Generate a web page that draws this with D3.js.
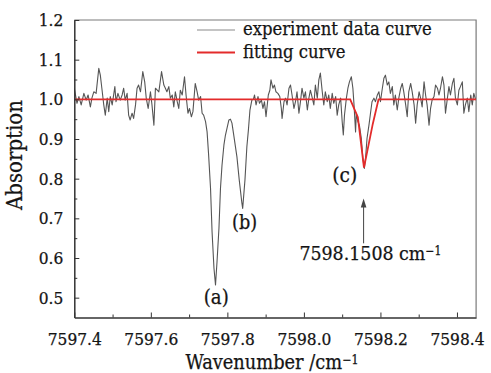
<!DOCTYPE html>
<html>
<head>
<meta charset="utf-8">
<script src="https://cdn.jsdelivr.net/npm/d3@7"></script>
<style>
  body { margin: 0; background: #fff; }
  svg { display: block; }
  text { font-family: 'DejaVu Serif Condensed', 'DejaVu Serif', serif; font-stretch: condensed; fill: #141414; stroke: #141414; stroke-width: 0.25px; }
</style>
</head>
<body>
<div id="chart"></div>
<script>
// experiment data curve
const expWavenumber = [
  7597.400, 7597.407, 7597.412, 7597.418, 7597.425, 7597.431, 7597.436, 7597.442, 7597.446, 7597.451,
  7597.457, 7597.464, 7597.468, 7597.472, 7597.477, 7597.481, 7597.486, 7597.490, 7597.494, 7597.499,
  7597.506, 7597.509, 7597.514, 7597.520, 7597.525, 7597.529, 7597.533, 7597.538, 7597.542, 7597.546,
  7597.551, 7597.555, 7597.560, 7597.564, 7597.568, 7597.573, 7597.579, 7597.584, 7597.588, 7597.593,
  7597.599, 7597.603, 7597.608, 7597.612, 7597.621, 7597.628, 7597.634, 7597.638, 7597.642, 7597.647,
  7597.651, 7597.656, 7597.660, 7597.664, 7597.669, 7597.673, 7597.677, 7597.682, 7597.688, 7597.692,
  7597.697, 7597.701, 7597.706, 7597.710, 7597.716, 7597.721, 7597.725, 7597.730, 7597.734, 7597.738,
  7597.743, 7597.747, 7597.751, 7597.756, 7597.760, 7597.765, 7597.769, 7597.773, 7597.778, 7597.782,
  7597.786, 7597.791, 7597.795, 7597.799, 7597.804, 7597.808, 7597.812, 7597.816, 7597.825, 7597.831,
  7597.838, 7597.840, 7597.846, 7597.851, 7597.855, 7597.859, 7597.864, 7597.868, 7597.871, 7597.875,
  7597.880, 7597.884, 7597.889, 7597.893, 7597.897, 7597.901, 7597.907, 7597.911, 7597.914, 7597.919,
  7597.923, 7597.927, 7597.932, 7597.937, 7597.941, 7597.943, 7597.948, 7597.952, 7597.956, 7597.961,
  7597.965, 7597.969, 7597.974, 7597.978, 7597.982, 7597.987, 7597.991, 7597.995, 7598.000, 7598.004,
  7598.009, 7598.013, 7598.017, 7598.022, 7598.026, 7598.030, 7598.035, 7598.039, 7598.043, 7598.048,
  7598.052, 7598.056, 7598.061, 7598.065, 7598.069, 7598.074, 7598.078, 7598.083, 7598.087, 7598.091,
  7598.096, 7598.100, 7598.103, 7598.106, 7598.111, 7598.115, 7598.119, 7598.124, 7598.128, 7598.131,
  7598.135, 7598.137, 7598.141, 7598.145, 7598.150, 7598.154, 7598.158, 7598.161, 7598.165, 7598.170,
  7598.174, 7598.178, 7598.183, 7598.187, 7598.192, 7598.196, 7598.200, 7598.205, 7598.209, 7598.213,
  7598.218, 7598.222, 7598.226, 7598.231, 7598.235, 7598.239, 7598.244, 7598.248, 7598.253, 7598.257,
  7598.261, 7598.266, 7598.270, 7598.274, 7598.279, 7598.283, 7598.288, 7598.292, 7598.296, 7598.301,
  7598.305, 7598.309, 7598.314, 7598.318, 7598.322, 7598.327, 7598.331, 7598.335, 7598.340, 7598.344,
  7598.349, 7598.353, 7598.357, 7598.362, 7598.366, 7598.370, 7598.375, 7598.379, 7598.383, 7598.388,
  7598.392, 7598.396, 7598.401, 7598.405, 7598.409, 7598.414, 7598.418, 7598.422, 7598.427, 7598.431,
  7598.436, 7598.440, 7598.444, 7598.449
];
const expAbsorption = [
  1.028, 0.990, 1.007, 0.986, 1.015, 0.998, 1.011, 0.981, 1.003, 1.019,
  1.015, 1.078, 1.061, 1.028, 0.986, 0.960, 1.003, 0.969, 1.007, 0.986,
  1.032, 0.994, 1.015, 0.998, 1.011, 1.028, 0.998, 1.015, 0.960, 0.948,
  0.965, 0.952, 0.986, 1.028, 1.036, 1.019, 1.070, 1.044, 1.003, 0.977,
  1.019, 0.986, 0.935, 1.028, 1.019, 1.070, 1.036, 1.028, 1.019, 1.032,
  1.003, 1.011, 0.981, 1.019, 0.994, 0.977, 1.023, 1.011, 1.057, 1.011,
  0.965, 0.977, 0.956, 0.969, 1.040, 1.019, 0.998, 1.007, 0.965, 0.960,
  0.944, 0.918, 0.860, 0.776, 0.666, 0.574, 0.532, 0.591, 0.675, 0.776,
  0.834, 0.885, 0.910, 0.927, 0.948, 0.950, 0.940, 0.914, 0.855, 0.797,
  0.738, 0.725, 0.797, 0.881, 0.923, 0.973, 0.998, 1.000, 1.011, 0.986,
  1.007, 0.990, 0.998, 0.977, 0.994, 0.956, 1.011, 1.023, 1.049, 1.028,
  1.036, 1.019, 1.015, 1.007, 0.977, 0.952, 0.994, 1.003, 0.986, 1.028,
  1.036, 1.011, 0.977, 0.994, 1.019, 0.965, 0.994, 1.028, 1.003, 1.019,
  0.973, 1.003, 1.023, 1.003, 0.986, 1.036, 1.003, 1.049, 1.066, 1.019,
  0.986, 1.019, 0.994, 1.011, 0.977, 1.015, 0.990, 1.007, 0.960, 0.986,
  1.003, 0.944, 0.910, 0.960, 1.003, 1.028, 1.044, 1.057, 1.028, 0.986,
  0.918, 0.965, 0.944, 0.935, 0.902, 0.851, 0.826, 0.851, 0.902, 0.935,
  0.965, 0.994, 1.003, 0.994, 1.011, 1.019, 0.994, 1.028, 1.053, 1.061,
  1.036, 1.044, 1.015, 1.032, 0.986, 1.011, 0.973, 1.003, 1.028, 1.040,
  1.019, 0.986, 0.956, 1.019, 1.040, 1.019, 0.986, 0.940, 0.986, 1.019,
  1.003, 0.981, 1.044, 1.011, 0.986, 0.935, 0.977, 0.998, 1.007, 1.036,
  1.028, 1.011, 1.028, 1.057, 1.036, 0.965, 1.003, 1.032, 1.011, 1.040,
  1.053, 1.003, 0.986, 1.023, 1.032, 1.044, 0.965, 0.986, 1.003, 0.969,
  1.011, 0.986, 1.015, 0.998
];

// fitting curve of line (c)
const fitWavenumber = [7597.400, 7598.121, 7598.141, 7598.157, 7598.180, 7598.195, 7598.450];
const fitAbsorption = [1.000, 1.000, 0.955, 0.828, 0.938, 1.000, 1.000];

const xTicks = [7597.4, 7597.6, 7597.8, 7598.0, 7598.2, 7598.4];
const xMinorTicks = [7597.5, 7597.7, 7597.9, 7598.1, 7598.3];
const yTicks = [0.5, 0.6, 0.7, 0.8, 0.9, 1.0, 1.1, 1.2];
const yMinorTicks = [0.55, 0.65, 0.75, 0.85, 0.95, 1.05, 1.15];

const peakLabels = ["(a)", "(b)", "(c)"];
const peakLabelX = [7597.771, 7597.845, 7598.107];
const peakLabelY = [0.484, 0.673, 0.792];

const arrowX = 7598.156;
const arrowFrom = 0.637;
const arrowTo = 0.750;
const arrowText = "7598.1508";

const width = 491;
const height = 373;

const x = d3.scaleLinear().domain([7597.4, 7598.45]).range([74.3, 476.1]);
const y = d3.scaleLinear().domain([0.45, 1.2]).range([317.5, 20]);

// scale a text's font size so it spans the width seen in the picture
function fitWidth(node, target) {
  const w = node.getComputedTextLength();
  const fs = parseFloat(getComputedStyle(node).fontSize);
  node.style.fontSize = (fs * target / w).toFixed(2) + "px";
}

const svg = d3.select("#chart")
  .append("svg")
  .attr("width", width)
  .attr("height", height);

svg.append("defs").append("clipPath")
  .attr("id", "plot-clip")
  .append("rect")
  .attr("x", x.range()[0])
  .attr("y", y.range()[1])
  .attr("width", x.range()[1] - x.range()[0])
  .attr("height", y.range()[0] - y.range()[1]);

// top and right frame (lighter)
svg.append("path")
  .attr("d", `M${x.range()[0]},${y.range()[1]}H${x.range()[1]}V${y.range()[0]}`)
  .attr("fill", "none")
  .attr("stroke", "#7a7a7a")
  .attr("stroke-width", 1.2);

// curves
const plot = svg.append("g").attr("clip-path", "url(#plot-clip)");

const line = d3.line()
  .x(d => x(d[0]))
  .y(d => y(d[1]));

plot.append("path")
  .datum(d3.zip(expWavenumber, expAbsorption))
  .attr("d", line)
  .attr("fill", "none")
  .attr("stroke", "#555")
  .attr("stroke-width", 1.1)
  .attr("stroke-linejoin", "round");

plot.append("path")
  .datum(d3.zip(fitWavenumber, fitAbsorption))
  .attr("d", line)
  .attr("fill", "none")
  .attr("stroke", "#e32b2b")
  .attr("stroke-width", 1.8);

// axes
const xAxis = svg.append("g")
  .attr("transform", `translate(0,${y.range()[0]})`)
  .call(d3.axisBottom(x).tickValues(xTicks).tickFormat(d3.format(".1f")).tickSize(-5).tickSizeOuter(0));
xAxis.selectAll("text").attr("dy", null).attr("y", 27.5).style("font-size", "17px");

svg.append("g")
  .attr("transform", `translate(0,${y.range()[0]})`)
  .call(d3.axisBottom(x).tickValues(xMinorTicks).tickFormat("").tickSize(-3).tickSizeOuter(0))
  .select(".domain").remove();

const yAxis = svg.append("g")
  .attr("transform", `translate(${x.range()[0]},0)`)
  .call(d3.axisLeft(y).tickValues(yTicks).tickFormat(d3.format(".1f")).tickSize(-5).tickSizeOuter(0).tickPadding(11));
yAxis.selectAll("text").style("font-size", "17px");

svg.append("g")
  .attr("transform", `translate(${x.range()[0]},0)`)
  .call(d3.axisLeft(y).tickValues(yMinorTicks).tickFormat("").tickSize(-3).tickSizeOuter(0))
  .select(".domain").remove();

svg.selectAll(".domain").attr("stroke", "#333").attr("stroke-width", 1.5);
svg.selectAll(".tick line").attr("stroke", "#333").attr("stroke-width", 1);
svg.selectAll(".tick text").attr("fill", "#141414");

// tick labels: one size for all, from the width of "7597.4"
const firstTick = xAxis.select(".tick text").node();
const tickSize = 17 * 54 / firstTick.getComputedTextLength();
svg.selectAll(".tick text").style("font-size", tickSize.toFixed(2) + "px");

// axis titles
const xTitle = svg.append("text")
  .attr("x", 272)
  .attr("y", 369)
  .attr("text-anchor", "middle")
  .style("font-size", "19.5px")
  .text("Wavenumber /cm");
xTitle.append("tspan").attr("dy", "-0.42em").style("font-size", "0.62em").text("\u22121");
fitWidth(xTitle.node(), 173);

const yTitle = svg.append("text")
  .attr("transform", "translate(22,155) rotate(-90)")
  .attr("text-anchor", "middle")
  .style("font-size", "19.5px")
  .text("Absorption");
fitWidth(yTitle.node(), 110);

// peak labels
const peaks = svg.selectAll(".peak")
  .data(peakLabels)
  .enter()
  .append("text")
  .attr("class", "peak")
  .attr("x", (d, i) => x(peakLabelX[i]))
  .attr("y", (d, i) => y(peakLabelY[i]))
  .attr("text-anchor", "middle")
  .style("font-size", "19.5px")
  .text(d => d);
peaks.each(function () { fitWidth(this, 25); });

// arrow to line centre
svg.append("line")
  .attr("x1", x(arrowX))
  .attr("x2", x(arrowX))
  .attr("y1", y(arrowFrom))
  .attr("y2", y(arrowTo) + 7)
  .attr("stroke", "#444")
  .attr("stroke-width", 1);

svg.append("path")
  .attr("d", `M${x(arrowX)},${y(arrowTo)}l-2.8,9h5.6z`)
  .attr("fill", "#444");

const centreText = svg.append("text")
  .attr("x", x(7598.1736))
  .attr("y", y(0.595))
  .attr("text-anchor", "middle")
  .style("font-size", "19px")
  .text(arrowText + " cm");
centreText.append("tspan").attr("dy", "-0.42em").style("font-size", "0.62em").text("\u22121");
fitWidth(centreText.node(), 142);

// legend
const legendRows = ["experiment data curve", "fitting curve"];
const legendColours = ["#8a8a8a", "#e32b2b"];
const legendLineY = [30, 52.5];

const legend = svg.append("g");
legend.selectAll("line")
  .data(legendRows)
  .enter()
  .append("line")
  .attr("x1", 197)
  .attr("x2", 235)
  .attr("y1", (d, i) => legendLineY[i])
  .attr("y2", (d, i) => legendLineY[i])
  .attr("stroke", (d, i) => legendColours[i])
  .attr("stroke-width", (d, i) => i ? 2 : 1.2);

legend.selectAll("text")
  .data(legendRows)
  .enter()
  .append("text")
  .attr("x", 243)
  .attr("y", (d, i) => legendLineY[i] + 5.4)
  .style("font-size", "18.3px")
  .text(d => d);
</script>
</body>
</html>
